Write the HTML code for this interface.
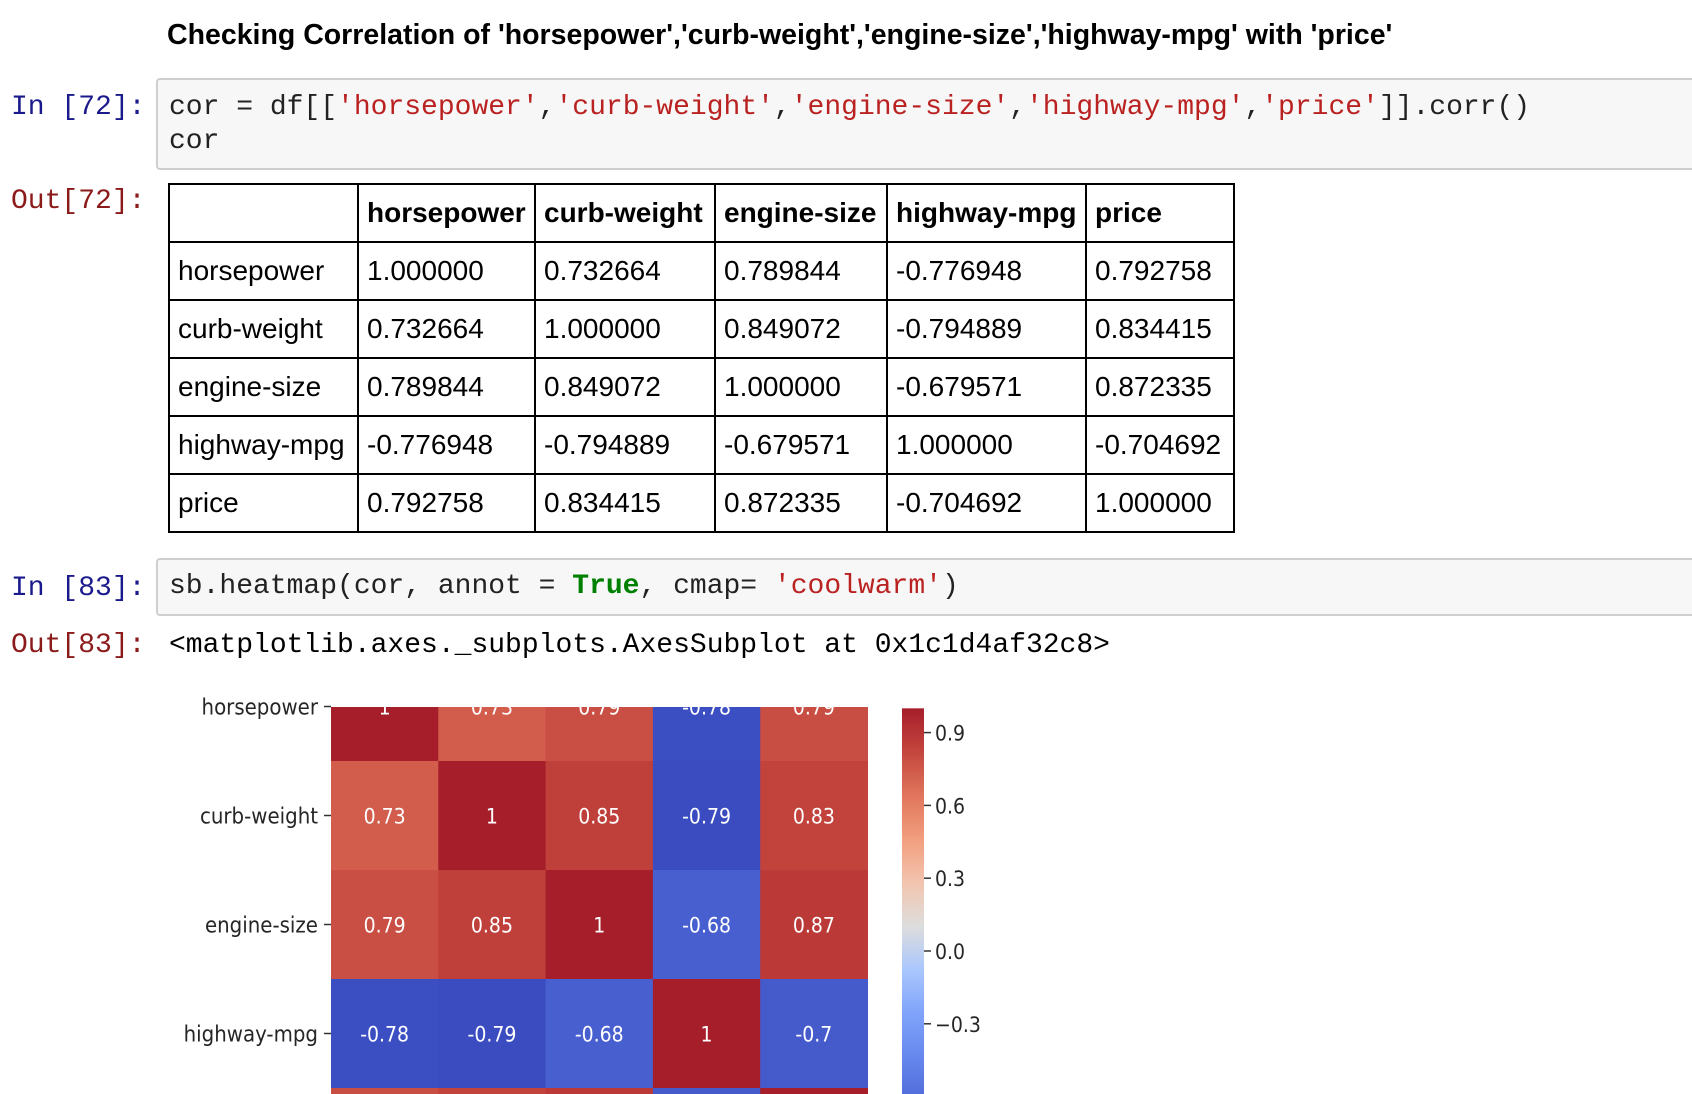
<!DOCTYPE html>
<html><head><meta charset="utf-8"><style>
html,body{margin:0;width:1692px;height:1094px;overflow:hidden;}
body{background:#fff;position:relative;font-family:"Liberation Sans",sans-serif;}
.abs{position:absolute;white-space:pre;}
.mono{font-family:"Liberation Mono",monospace;font-size:28px;}
.in{color:#1a1a8c;}
.out{color:#8b1a1a;}
.cell{position:absolute;left:156px;width:1536px;box-sizing:border-box;background:#f7f7f7;border:2px solid #cfcfcf;border-right:none;border-radius:4px 0 0 4px;}
table{position:absolute;left:168px;top:183px;border-collapse:collapse;font-size:28px;color:#000;}
td,th{border:2px solid #000;padding:0 8px;height:56px;text-align:left;white-space:nowrap;}
th{font-weight:bold;}
</style></head><body>
<div class="abs" style="left:167px;top:19px;font-size:28.5px;font-weight:bold;">Checking Correlation of 'horsepower','curb-weight','engine-size','highway-mpg' with 'price'</div>

<div class="abs mono in" style="left:11px;top:92px;">In [72]:</div>
<div class="cell" style="top:78px;height:92px;"></div>
<div class="abs mono" style="left:169px;top:91px;line-height:34px;color:#222;">cor = df[[<span style="color:#ba2121">'horsepower'</span>,<span style="color:#ba2121">'curb-weight'</span>,<span style="color:#ba2121">'engine-size'</span>,<span style="color:#ba2121">'highway-mpg'</span>,<span style="color:#ba2121">'price'</span>]].corr()
cor</div>

<div class="abs mono out" style="left:11px;top:186px;">Out[72]:</div>
<table>
<colgroup><col style="width:189px"><col style="width:177px"><col style="width:180px"><col style="width:172px"><col style="width:199px"><col style="width:148px"></colgroup>
<tr><th></th><th>horsepower</th><th>curb-weight</th><th>engine-size</th><th>highway-mpg</th><th>price</th></tr>
<tr><td>horsepower</td><td>1.000000</td><td>0.732664</td><td>0.789844</td><td>-0.776948</td><td>0.792758</td></tr>
<tr><td>curb-weight</td><td>0.732664</td><td>1.000000</td><td>0.849072</td><td>-0.794889</td><td>0.834415</td></tr>
<tr><td>engine-size</td><td>0.789844</td><td>0.849072</td><td>1.000000</td><td>-0.679571</td><td>0.872335</td></tr>
<tr><td>highway-mpg</td><td>-0.776948</td><td>-0.794889</td><td>-0.679571</td><td>1.000000</td><td>-0.704692</td></tr>
<tr><td>price</td><td>0.792758</td><td>0.834415</td><td>0.872335</td><td>-0.704692</td><td>1.000000</td></tr>
</table>

<div class="abs mono in" style="left:11px;top:573px;">In [83]:</div>
<div class="cell" style="top:558px;height:58px;"></div>
<div class="abs mono" style="left:169px;top:571px;color:#222;">sb.heatmap(cor, annot = <b style="color:#008000">True</b>, cmap= <span style="color:#ba2121">'coolwarm'</span>)</div>
<div class="abs mono out" style="left:11px;top:630px;">Out[83]:</div>
<div class="abs mono" style="left:169px;top:630px;color:#000;">&lt;matplotlib.axes._subplots.AxesSubplot at 0x1c1d4af32c8&gt;</div>

<svg id="hm" width="1692" height="1094" style="position:absolute;left:0;top:0;overflow:hidden;">
<defs><clipPath id="clip"><rect x="0" y="707" width="1692" height="387"/></clipPath>
<linearGradient id="cbg" gradientUnits="userSpaceOnUse" x1="0" x2="0"></linearGradient></defs>
<g id="cells" clip-path="url(#clip)"></g><g id="ylab"></g><g id="cbar" clip-path="url(#clip)"></g>
</svg>
<script>
const labels=['horsepower','curb-weight','engine-size','highway-mpg','price'];
const hp=[1,0.732664,0.789844,-0.776948,0.792758];
const cw=[0.732664,1,0.849072,-0.794889,0.834415];
const es=[0.789844,0.849072,1,-0.679571,0.872335];
const hw=[-0.776948,-0.794889,-0.679571,1,-0.704692];
const pr=[0.792758,0.834415,0.872335,-0.704692,1];
const cbTicks=[0.9,0.6,0.3,0.0,-0.3,-0.6];
const rows=[hp,cw,es,hw,pr];
const vmin=Math.min(...rows.flat()),vmax=Math.max(...rows.flat());
const NS='http://www.w3.org/2000/svg';
const H=1094;
const stops=[[0,[58,76,192]],[0.1,[80,106,216]],[0.2,[102,136,238]],[0.3,[128,163,250]],[0.4,[170,199,253]],[0.5,[221,221,221]],[0.6,[242,196,174]],[0.7,[242,158,126]],[0.8,[224,117,92]],[0.9,[196,70,62]],[1,[165,30,42]]];
function cmap(t){t=Math.max(0,Math.min(1,t));for(let i=1;i<stops.length;i++){if(t<=stops[i][0]){const a=stops[i-1],b=stops[i],f=(t-a[0])/(b[0]-a[0]);return 'rgb('+a[1].map((c,k)=>Math.round(c+(b[1][k]-c)*f)).join(',')+')';}}}
const x0=331,cwid=107.3,y0=652,rh=109;
const xs=i=>x0+i*cwid, ys=j=>y0+j*rh;
const gc=document.getElementById('cells'),gy=document.getElementById('ylab'),gb=document.getElementById('cbar');
const FF='DejaVu Sans Condensed, DejaVu Sans, sans-serif';
rows.forEach((r,j)=>{r.forEach((v,i)=>{
 const rc=document.createElementNS(NS,'rect');
 
 
 rc.setAttribute('x',xs(i));rc.setAttribute('y',ys(j));rc.setAttribute('width',cwid+0.5);
 rc.setAttribute('height',Math.max(0,Math.min(rh+0.5,H-ys(j))));
 rc.setAttribute('fill',cmap((v-vmin)/(vmax-vmin)));gc.appendChild(rc);
 if(ys(j)+rh/2+8<H){
 const t=document.createElementNS(NS,'text');
 
 
 t.setAttribute('x',xs(i)+cwid/2);t.setAttribute('y',ys(j)+rh/2+8);t.setAttribute('text-anchor','middle');
 t.setAttribute('fill','#fff');t.setAttribute('font-size','21');t.setAttribute('font-family',FF);
 t.textContent=String(+v.toFixed(2));gc.appendChild(t);}
});
 if(ys(j)+rh/2>700&&ys(j)+rh/2+8<H){
 const l=document.createElementNS(NS,'text');
 
 
 l.setAttribute('x',318);l.setAttribute('y',ys(j)+rh/2+8);l.setAttribute('text-anchor','end');l.setAttribute('fill','#262626');l.setAttribute('font-size','22');l.setAttribute('font-family',FF);
 l.textContent=labels[j];gy.appendChild(l);}
 if(ys(j)+rh/2<H){
 const tk=document.createElementNS(NS,'line');
 
 
 tk.setAttribute('x1',324);tk.setAttribute('x2',331);tk.setAttribute('y1',ys(j)+rh/2);tk.setAttribute('y2',ys(j)+rh/2);tk.setAttribute('stroke','#333');tk.setAttribute('stroke-width','1.5');gy.appendChild(tk);}
});
const cy0=951,per=72.8/0.3; const cyv=v=>cy0-v*per;
const grad=document.getElementById('cbg');
grad.setAttribute('y1',cyv(vmin));grad.setAttribute('y2',cyv(vmax));
for(let k=0;k<=20;k++){const s=document.createElementNS(NS,'stop');s.setAttribute('offset',k/20);s.setAttribute('stop-color',cmap(k/20));grad.appendChild(s);}
const cb=document.createElementNS(NS,'rect');


cb.setAttribute('x',902);cb.setAttribute('width',22);cb.setAttribute('y',cyv(vmax));
cb.setAttribute('height',Math.min(cyv(vmin),H)-cyv(vmax));cb.setAttribute('fill','url(#cbg)');gb.appendChild(cb);
cbTicks.forEach(v=>{
 if(cyv(v)>=H)return;
 const ln=document.createElementNS(NS,'line');
 
 
 ln.setAttribute('x1',924);ln.setAttribute('x2',931);ln.setAttribute('y1',cyv(v));ln.setAttribute('y2',cyv(v));ln.setAttribute('stroke','#333');ln.setAttribute('stroke-width','1.5');gb.appendChild(ln);
 const t=document.createElementNS(NS,'text');
 
 
 t.setAttribute('x',935);t.setAttribute('y',Math.min(cyv(v)+8,H-1));t.setAttribute('fill','#262626');t.setAttribute('font-size','21');t.setAttribute('font-family',FF);
 t.textContent=(v<0?'\u2212':'')+Math.abs(v).toFixed(1);gb.appendChild(t);
});
</script>
</body></html>
